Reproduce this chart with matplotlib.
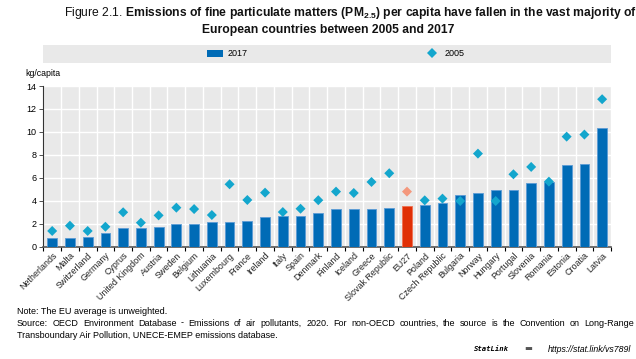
import matplotlib
matplotlib.use("Agg")
import matplotlib.pyplot as plt
from matplotlib.patches import Rectangle, Patch
from matplotlib.lines import Line2D
import numpy as np

countries = ["Netherlands", "Malta", "Switzerland", "Germany", "Cyprus", "United Kingdom",
             "Austria", "Sweden", "Belgium", "Lithuania", "Luxembourg", "France", "Ireland",
             "Italy", "Spain", "Denmark", "Finland", "Iceland", "Greece", "Slovak Republic",
             "EU27", "Poland", "Czech Republic", "Bulgaria", "Norway", "Hungary", "Portugal",
             "Slovenia", "Romania", "Estonia", "Croatia", "Latvia"]
v2017 = [0.73, 0.73, 0.84, 1.19, 1.60, 1.60, 1.72, 1.98, 2.00, 2.12, 2.18, 2.21, 2.56,
         2.67, 2.70, 2.94, 3.26, 3.26, 3.28, 3.34, 3.55, 3.63, 3.78, 4.48, 4.68, 4.91,
         4.91, 5.58, 5.67, 7.12, 7.21, 10.32]
v2005 = [1.37, 1.83, 1.37, 1.74, 3.00, 2.09, 2.73, 3.40, 3.28, 2.76, 5.44, 4.07, 4.71,
         3.02, 3.31, 4.05, 4.80, 4.68, 5.64, 6.40, 4.80, 4.04, 4.19, 3.98, 8.11, 3.98,
         6.31, 6.95, 5.67, 9.59, 9.77, 12.85]
yticks = [0, 2, 4, 6, 8, 10, 12, 14]

BLUE = "#006BB6"
RED = "#E03006"
CYAN = "#13A6CD"
SALMON = "#F4987D"
BG = "#E9E9E9"

plt.rcParams['font.family'] = ['Liberation Sans', 'DejaVu Sans']
plt.rcParams['mathtext.fontset'] = 'custom'
plt.rcParams['mathtext.rm'] = 'Liberation Sans'
plt.rcParams['mathtext.bf'] = 'Liberation Sans:bold'
plt.rcParams['mathtext.it'] = 'Liberation Sans:italic'

fig = plt.figure(figsize=(6.36, 3.59), dpi=100)
ax = fig.add_axes([0.0681, 0.3128, 0.8926, 0.4476])
ax.set_facecolor(BG)

x = np.arange(len(countries))
bar_colors = [RED if c == "EU27" else BLUE for c in countries]
edge_colors = ["#F07050" if c == "EU27" else "#5B9BD5" for c in countries]
bars = ax.bar(x, v2017, width=0.55, color=bar_colors, edgecolor=edge_colors,
              linewidth=0.6, zorder=3)
dia_colors = [SALMON if c == "EU27" else CYAN for c in countries]
ax.scatter(x, v2005, marker="D", s=26, c=dia_colors, zorder=4, linewidths=0)

ax.set_xlim(-0.5, len(countries) - 0.5)
ax.set_ylim(0, 14)
ax.set_yticks(yticks)
ax.set_yticklabels([str(t) for t in yticks])
ax.set_xticks(x)
ax.set_xticklabels(countries, rotation=45, ha="right", rotation_mode="anchor",
                   fontsize=6.4, color="#222222")
ax.tick_params(axis="x", length=0, pad=3)
ax.set_xticks(np.arange(-0.5, len(countries), 1), minor=True)
ax.tick_params(axis="x", which="minor", length=3, width=0.8, color="#000000")
ax.tick_params(axis="y", length=3, width=0.6, labelsize=6.5, pad=2, color="#333333")

ax.grid(axis="y", color="white", linewidth=1.0, zorder=1)
ax.grid(axis="x", which="minor", color="white", linewidth=1.0, zorder=1)
ax.grid(axis="x", which="major", visible=False)
ax.set_axisbelow(True)
for s in ["top", "right"]:
    ax.spines[s].set_visible(False)
ax.spines["left"].set_color("#333333")
ax.spines["left"].set_linewidth(0.8)
ax.spines["bottom"].set_color("#555555")
ax.spines["bottom"].set_linewidth(1.2)

fig.text(25 / 636, 1 - 73 / 359, "kg/capita", fontsize=6.3, va="center", ha="left")

# legend background
fig.patches.append(Rectangle((43 / 636, 1 - 63 / 359), (611 - 43) / 636, 18 / 359,
                             transform=fig.transFigure, facecolor=BG, edgecolor="none",
                             zorder=0))
handles = [Patch(facecolor=BLUE, edgecolor="none"),
           Line2D([], [], marker="D", linestyle="none", markersize=5.2,
                  markerfacecolor=CYAN, markeredgewidth=0)]
fig.legend(handles, ["2017", "2005"], ncol=2, frameon=False,
           loc="center", bbox_to_anchor=(336 / 636, 1 - 54 / 359),
           fontsize=6.5, handlelength=1.7, handleheight=0.8, columnspacing=19.5,
           handletextpad=0.6)

# title
fig.text(350 / 636, 1 - 13 / 359,
         r"Figure 2.1. $\mathbf{Emissions\ of\ fine\ particulate\ matters\ (PM_{2.5})\ per\ capita\ have\ fallen\ in\ the\ vast\ majority\ of}$",
         fontsize=8.7, ha="center", va="center", color="#111111")
fig.text(328 / 636, 1 - 30 / 359, "European countries between 2005 and 2017",
         fontsize=8.7, ha="center", va="center", weight="bold", color="#111111")

# notes
NFS = 6.5
fig.text(17 / 636, 1 - 311 / 359, "Note: The EU average is unweighted.",
         fontsize=NFS, ha="left", va="center")

# justified source line
source1 = "Source: OECD Environment Database - Emissions of air pollutants, 2020. For non-OECD countries, the source is the Convention on Long-Range"
words = source1.split(" ")
renderer = fig.canvas.get_renderer()
word_texts = [fig.text(0, 1 - 323 / 359, w, fontsize=NFS, ha="left", va="center") for w in words]
widths = [t.get_window_extent(renderer).width for t in word_texts]
left_px, right_px = 17, 634
gap = (right_px - left_px - sum(widths)) / (len(words) - 1)
pos = left_px
for t, w in zip(word_texts, widths):
    t.set_x(pos / 636)
    pos += w + gap

fig.text(17 / 636, 1 - 335 / 359,
         "Transboundary Air Pollution, UNECE-EMEP emissions database.",
         fontsize=NFS, ha="left", va="center")
fig.text(474 / 636, 1 - 349 / 359, "StatLink", fontsize=5.2, ha="left", va="center",
         style="italic", weight="bold", family=['DejaVu Sans Mono', 'DejaVu Sans'])
fig.text(524 / 636, 1 - 349 / 359, "\u25AC", fontsize=6, ha="left", va="center",
         color="#555555", family=['DejaVu Sans'])
fig.text(548 / 636, 1 - 349 / 359, "https://stat.link/vs789l", fontsize=6.3, ha="left",
         va="center", style="italic")

fig.savefig("out.png", dpi=100)
